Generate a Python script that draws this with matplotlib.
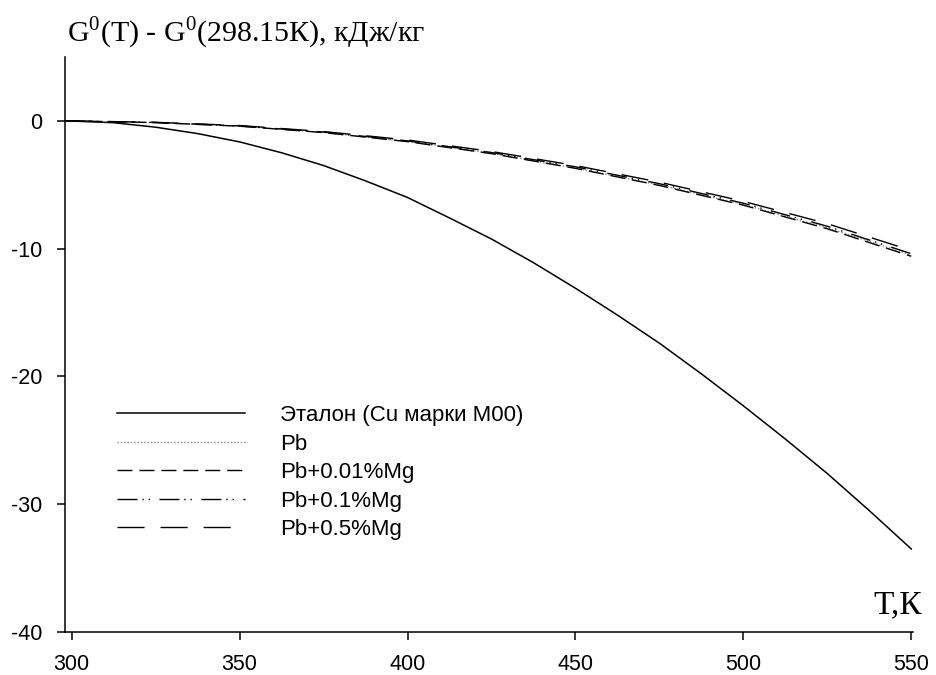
import matplotlib
matplotlib.use("Agg")
import matplotlib.pyplot as plt

plt.rcParams["axes.unicode_minus"] = False
plt.rcParams["mathtext.fontset"] = "custom"
plt.rcParams["mathtext.rm"] = "Liberation Serif"

# temperatures, K
T_cu = [298.15, 312.5, 325, 337.5, 350, 362.5, 375, 387.5, 400, 412.5, 425,
        437.5, 450, 462.5, 475, 487.5, 500, 512.5, 525, 537.5, 550]
T = [298.15, 325, 350, 375, 400, 425, 450, 475, 500, 525, 550]

# G0(T) - G0(298.15K), kJ/kg
cu_m00 = [0.0, -0.15, -0.5, -1.0, -1.65, -2.5, -3.5, -4.7, -6.0, -7.6, -9.25,
          -11.1, -13.1, -15.2, -17.4, -19.8, -22.3, -24.9, -27.6, -30.5, -33.5]
pb = [0.0, -0.14, -0.42, -0.92, -1.62, -2.55, -3.7, -5.02, -6.55, -8.38, -10.5]
pb_001mg = [0.0, -0.14, -0.42, -0.92, -1.63, -2.57, -3.72, -5.06, -6.6, -8.45, -10.6]
pb_01mg = [0.0, -0.13, -0.4, -0.88, -1.57, -2.48, -3.6, -4.92, -6.45, -8.25, -10.4]
pb_05mg = [0.0, -0.12, -0.37, -0.84, -1.5, -2.4, -3.5, -4.8, -6.3, -8.05, -10.15]

labels = ["Эталон (Cu марки M00)", "Pb", "Pb+0.01%Mg", "Pb+0.1%Mg", "Pb+0.5%Mg"]

fig = plt.figure(figsize=(9.36, 6.75), dpi=100)
ax = fig.add_axes([0.0694, 0.0637, 0.9056, 0.852])

ax.plot(T_cu, cu_m00, color="black", lw=1.1, label=labels[0])
ax.plot(T, pb, color="#888888", lw=1.0, linestyle=(0, (1, 1.4)), label=labels[1])
ax.plot(T, pb_001mg, color="black", lw=1.0, linestyle=(0, (10.8, 5)), label=labels[2])
ax.plot(T, pb_01mg, color="black", lw=1.0, linestyle=(0, (14.4, 3.5, 1, 3.5, 1, 6.8)), label=labels[3])
ax.plot(T, pb_05mg, color="black", lw=1.0, linestyle=(0, (19.5, 11.5)), label=labels[4])

ax.set_xlim(298, 550.4)
ax.set_ylim(-40, 5)
ax.set_xticks([300, 350, 400, 450, 500, 550])
ax.set_yticks([0, -10, -20, -30, -40])
for s in ["top", "right"]:
    ax.spines[s].set_visible(False)
for s in ["left", "bottom"]:
    ax.spines[s].set_linewidth(1.1)
ax.tick_params(direction="out", length=6, width=1.1, labelsize=15.5)
ax.tick_params(axis="y", pad=10)
ax.tick_params(axis="x", pad=10)
for lab in ax.get_xticklabels() + ax.get_yticklabels():
    lab.set_family("Liberation Sans")

fig.text(0.072, 0.9382, "G$^0$(T) - G$^0$(298.15К), кДж/кг", family="Liberation Serif",
         fontsize=21.5, va="baseline", ha="left")
fig.text(0.985, 0.0919, "T,К", family="Liberation Serif", fontsize=24, ha="right", va="baseline")

ax.legend(loc="upper left", bbox_to_anchor=(0.125, 0.400), bbox_transform=fig.transFigure,
          frameon=False, prop={"family": "Liberation Sans", "size": 16},
          handlelength=5.76, handletextpad=1.57, labelspacing=0.34, borderpad=0, borderaxespad=0)

fig.savefig("out.png", dpi=100)
